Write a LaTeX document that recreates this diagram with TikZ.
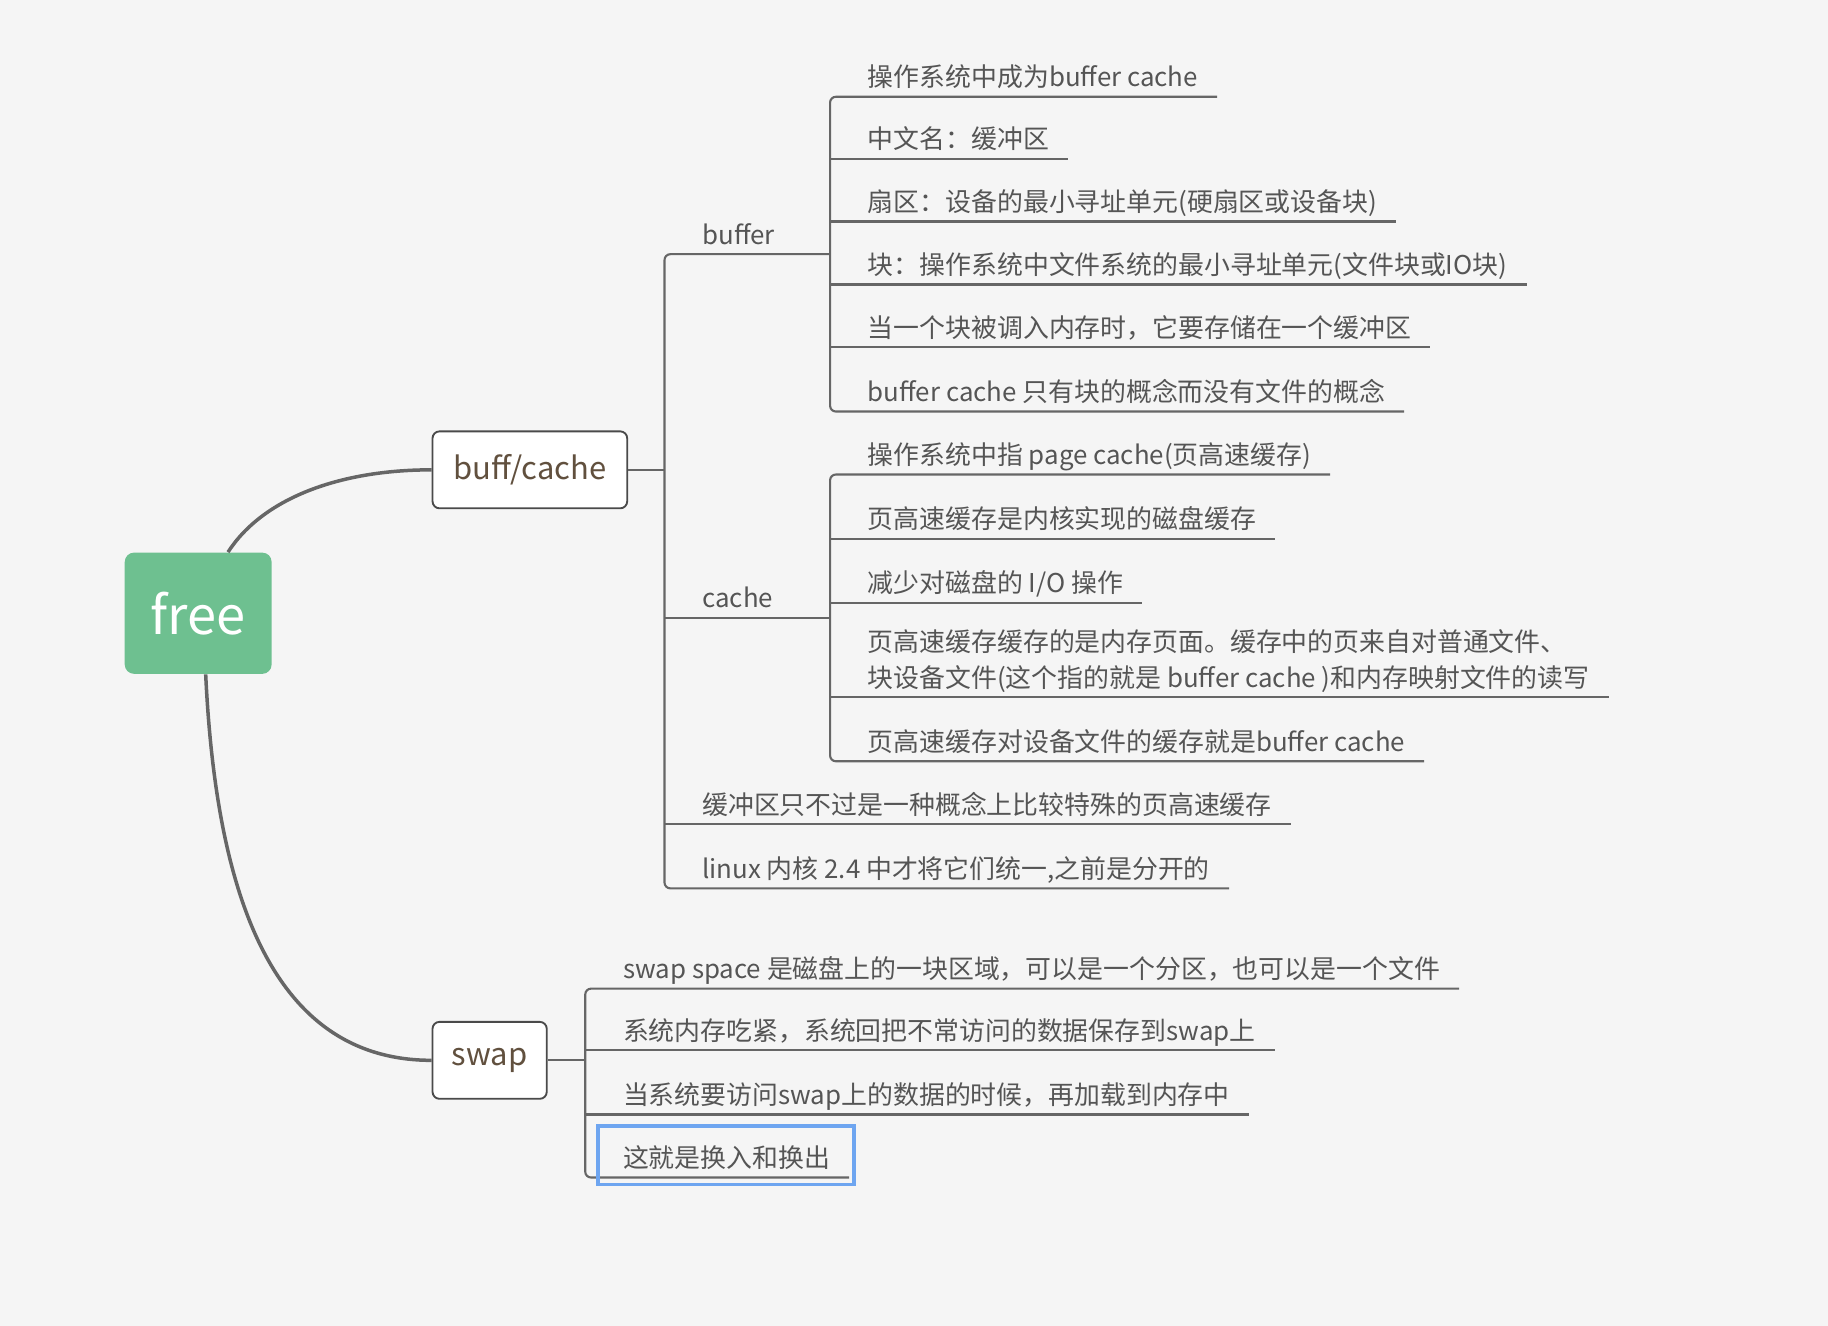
\documentclass[tikz,border=0pt]{standalone}
\usepackage{fontspec}
\setmainfont{Noto Sans CJK SC}
\usepackage{tikz}
\usetikzlibrary{calc}
\definecolor{bggray}{RGB}{245,245,245}
\definecolor{rootgreen}{RGB}{110,192,144}
\definecolor{linegray}{RGB}{102,102,102}
\definecolor{boxborder}{RGB}{74,74,74}
\definecolor{topictext}{RGB}{97,80,62}
\definecolor{leaftext}{RGB}{85,85,85}
\definecolor{hiblue}{RGB}{110,165,240}
\tikzset{
  rootnode/.style={
    rectangle, rounded corners=4pt,
    minimum width=63pt, minimum height=52pt,
    text centered, font=\fontsize{22.5}{26}\selectfont,
    fill=rootgreen, text=white
  },
  topicnode/.style={
    rectangle, rounded corners=3pt,
    minimum height=33pt,
    text centered, font=\fontsize{13.3}{16}\selectfont,
    draw=boxborder, fill=white, text=topictext, line width=0.8pt
  },
  leafnode/.style={
    anchor=south west, inner xsep=8pt, inner ysep=0pt,
    text height=9pt, text depth=4.1pt, align=left,
    font=\fontsize{11.1}{15.5}\selectfont, text=leaftext
  },
  spine/.style={draw=linegray, line width=0.9pt, rounded corners=2.5pt},
  curve/.style={draw=linegray, line width=1.5pt},
  hilite/.style={draw=hiblue, line width=1.5pt}
}
\begin{document}
\begin{tikzpicture}[x=0.5pt, y=-0.5pt]

  \fill[bggray] (0,0) rectangle (1568,1137);
  \useasboundingbox (0,0) rectangle (1568,1137);

  %% — — — Main topics — — —
  \node[rootnode] (free) at (170,526) {free};
  \node[topicnode, minimum width=83.5pt] (bufcache) at (454.5,403) {buff/cache};
  \node[topicnode, minimum width=49pt] (swap) at (420,909.5) {swap};

  %% — — — Spines — — —
  \coordinate (trunk) at (570,403);
  \coordinate (bufspine) at (712,218);
  \coordinate (cachespine) at (712,530);
  \coordinate (swapspine) at (502,909.5);

  %% — — — buff/cache branches — — —
  \node[leafnode] (buffer) at (586,218) {buffer};
  \node[leafnode] (cache) at (586,530) {cache};
  \node[leafnode] (bc1) at (586,707) {缓冲区只不过是一种概念上比较特殊的页高速缓存};
  \node[leafnode] (bc2) at (586,762) {linux 内核 2.4 中才将它们统一,之前是分开的};

  %% — — — buffer leaves — — —
  \node[leafnode] (b1) at (728,83) {操作系统中成为buffer cache};
  \node[leafnode] (b2) at (728,136) {中文名：缓冲区};
  \node[leafnode] (b3) at (728,190) {扇区：设备的最小寻址单元(硬扇区或设备块)};
  \node[leafnode] (b4) at (728,244) {块：操作系统中文件系统的最小寻址单元(文件块或IO块)};
  \node[leafnode] (b5) at (728,298) {当一个块被调入内存时，它要存储在一个缓冲区};
  \node[leafnode] (b6) at (728,353) {buffer cache 只有块的概念而没有文件的概念};

  %% — — — cache leaves — — —
  \node[leafnode] (c1) at (728,407) {操作系统中指 page cache(页高速缓存)};
  \node[leafnode] (c2) at (728,462) {页高速缓存是内核实现的磁盘缓存};
  \node[leafnode] (c3) at (728,517) {减少对磁盘的 I/O 操作};
  \node[leafnode] (c4) at (728,598)
    {页高速缓存缓存的是内存页面。缓存中的页来自对普通文件、\\
     块设备文件(这个指的就是 buffer cache )和内存映射文件的读写};
  \node[leafnode] (c5) at (728,653) {页高速缓存对设备文件的缓存就是buffer cache};

  %% — — — swap leaves — — —
  \node[leafnode] (s1) at (518,848) {swap space 是磁盘上的一块区域，可以是一个分区，也可以是一个文件};
  \node[leafnode] (s2) at (518,901) {系统内存吃紧，系统回把不常访问的数据保存到swap上};
  \node[leafnode] (s3) at (518,956) {当系统要访问swap上的数据的时候，再加载到内存中};
  \node[leafnode] (s4) at (518,1010) {这就是换入和换出};

  %% — — — Curves from root — — —
  \draw[curve] (free.64) .. controls (225,428) and (290,403) .. (bufcache.west);
  \draw[curve] (free.-83) .. controls (185,760) and (230,909.5) .. (swap.west);

  %% — — — buff/cache trunk — — —
  \draw[spine] (bufcache.east) -- (bufcache.east -| trunk);
  \draw[spine] (bufspine) -- (buffer.south west -| trunk) -- (bc2.south west -| trunk) -- (bc2.south east);
  \draw[spine] (cache.south west -| trunk) -- (cachespine);
  \draw[spine] (bc1.south west -| trunk) -- (bc1.south east);

  %% — — — buffer spine — — —
  \draw[spine] (b1.south east) -- (b1.south west -| bufspine) -- (b6.south west -| bufspine) -- (b6.south east);
  \draw[spine] (b2.south west -| bufspine) -- (b2.south east);
  \draw[spine] (b3.south west -| bufspine) -- (b3.south east);
  \draw[spine] (b4.south west -| bufspine) -- (b4.south east);
  \draw[spine] (b5.south west -| bufspine) -- (b5.south east);

  %% — — — cache spine — — —
  \draw[spine] (c1.south east) -- (c1.south west -| cachespine) -- (c5.south west -| cachespine) -- (c5.south east);
  \draw[spine] (c2.south west -| cachespine) -- (c2.south east);
  \draw[spine] (c3.south west -| cachespine) -- (c3.south east);
  \draw[spine] (c4.south west -| cachespine) -- (c4.south east);

  %% — — — swap spine — — —
  \draw[spine] (swap.east) -- (swapspine);
  \draw[spine] (s1.south east) -- (s1.south west -| swapspine) -- (s4.south west -| swapspine) -- (s4.south east);
  \draw[spine] (s2.south west -| swapspine) -- (s2.south east);
  \draw[spine] (s3.south west -| swapspine) -- (s3.south east);

  %% — — — Highlight — — —
  \draw[hilite] ($(s4.south west)+(-5,6)$) rectangle ($(s4.south east)+(4,-44)$);

\end{tikzpicture}
\end{document}
